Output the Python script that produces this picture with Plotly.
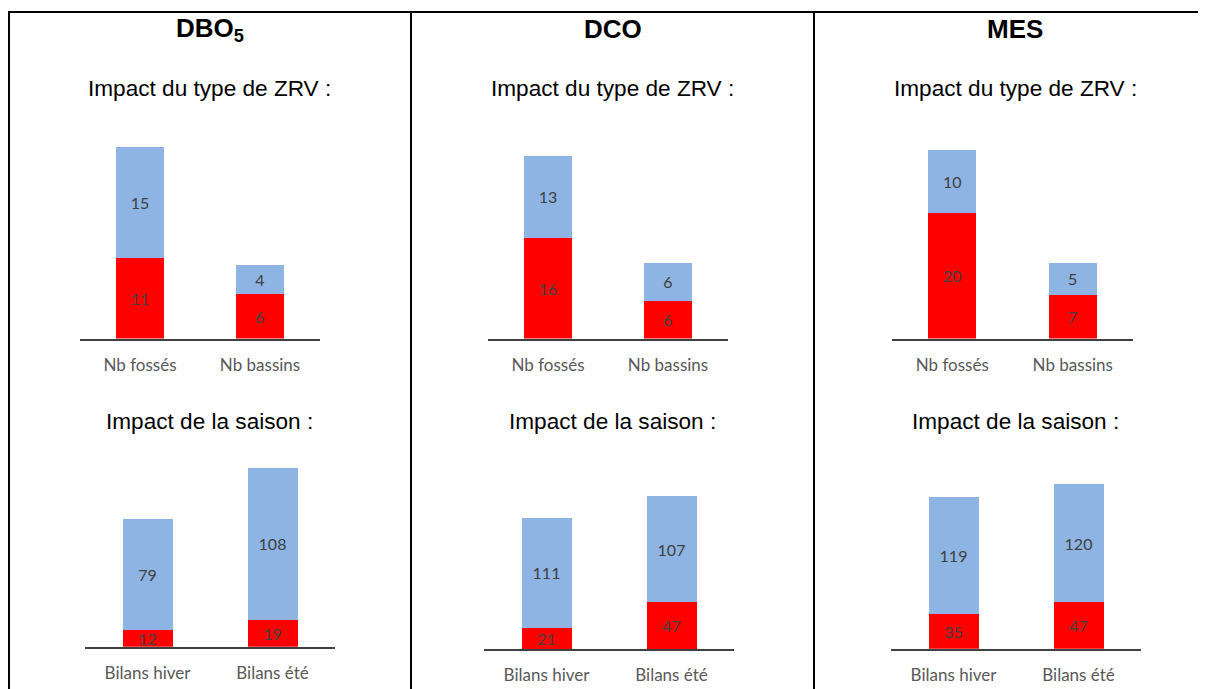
import plotly.graph_objects as go

# ---------------- data ----------------
params = ["DBO5", "DCO", "MES"]
cat_zrv = ["Nb fossés", "Nb bassins"]
cat_saison = ["Bilans hiver", "Bilans été"]

dbo_zrv_red = [11, 6]
dbo_zrv_blue = [15, 4]
dco_zrv_red = [16, 6]
dco_zrv_blue = [13, 6]
mes_zrv_red = [20, 7]
mes_zrv_blue = [10, 5]

dbo_saison_red = [12, 19]
dbo_saison_blue = [79, 108]
dco_saison_red = [21, 47]
dco_saison_blue = [111, 107]
mes_saison_red = [35, 47]
mes_saison_blue = [119, 120]

headers = ["<b>DBO<sub>5</sub></b>", "<b>DCO</b>", "<b>MES</b>"]
title_zrv = "Impact du type de ZRV :"
title_saison = "Impact de la saison :"

# ---------------- layout geometry (screen pixels) ----------------
W, H = 1206, 689
OFF = 8  # page body margin offset
RED = "#FF0000"
BLUE = "#8EB4E3"
LABEL_FONT = "Lato"


def px(x):
    return (x - OFF) / W


def py(y):
    return 1 - (y - OFF) / H


# (categories, red, blue, x0, x1, baseline_y, top_y, px_per_unit)
charts = [
    (cat_zrv, dbo_zrv_red, dbo_zrv_blue, 80, 320, 338.5, 140, 7.36),
    (cat_zrv, dco_zrv_red, dco_zrv_blue, 488, 728, 338.5, 140, 6.30),
    (cat_zrv, mes_zrv_red, mes_zrv_blue, 892, 1133, 338.5, 140, 6.28),
    (cat_saison, dbo_saison_red, dbo_saison_blue, 85, 335, 646.7, 455, 1.407),
    (cat_saison, dco_saison_red, dco_saison_blue, 484, 734, 649.0, 455, 0.994),
    (cat_saison, mes_saison_red, mes_saison_blue, 891, 1141, 648.7, 455, 0.985),
]

fig = go.Figure()
layout = {}

for i, (cats, red, blue, x0, x1, yb, yt, scale) in enumerate(charts):
    k = i + 1
    xa = "x" if k == 1 else f"x{k}"
    ya = "y" if k == 1 else f"y{k}"
    for vals, col in ((red, RED), (blue, BLUE)):
        fig.add_trace(go.Bar(
            x=cats, y=vals, xaxis=xa, yaxis=ya,
            marker=dict(color=col, line=dict(width=0)),
            text=[str(v) for v in vals],
            textposition="inside", insidetextanchor="middle",
            textangle=0, constraintext="none",
            textfont=dict(family=LABEL_FONT, size=16, color="#404040"),
            hoverinfo="skip", showlegend=False,
        ))
    xkey = "xaxis" if k == 1 else f"xaxis{k}"
    ykey = "yaxis" if k == 1 else f"yaxis{k}"
    layout[xkey] = dict(
        domain=[px(x0), px(x1)], range=[-0.5, 1.5], anchor=ya,
        showline=True, linecolor="#404040", linewidth=1.5,
        showgrid=False, zeroline=False, ticks="",
        ticklabelstandoff=10,
        tickfont=dict(family=LABEL_FONT, size=17, color="#595959"),
        fixedrange=True,
    )
    layout[ykey] = dict(
        domain=[py(yb), py(yt)], range=[0, (yb - yt) / scale], anchor=xa,
        visible=False, fixedrange=True,
    )

col_centers = [210, 612.5, 1015]
annotations = []
for c, h in zip(col_centers, headers):
    annotations.append(dict(
        x=px(c), y=py(29), xref="paper", yref="paper", text=h,
        showarrow=False, xanchor="center", yanchor="middle",
        font=dict(family="Liberation Sans", size=26, color="black"),
    ))
    annotations.append(dict(
        x=px(c), y=py(89), xref="paper", yref="paper", text=title_zrv,
        showarrow=False, xanchor="center", yanchor="middle",
        font=dict(family="Liberation Sans", size=22.6, color="black"),
    ))
    annotations.append(dict(
        x=px(c), y=py(421), xref="paper", yref="paper", text=title_saison,
        showarrow=False, xanchor="center", yanchor="middle",
        font=dict(family="Liberation Sans", size=22.6, color="black"),
    ))

shapes = [
    dict(type="line", xref="paper", yref="paper", x0=px(8), x1=1, y0=py(12), y1=py(12),
         line=dict(color="black", width=2)),
]
for xv in (9, 411, 814):
    shapes.append(dict(type="line", xref="paper", yref="paper", x0=px(xv), x1=px(xv),
                       y0=py(12), y1=0, line=dict(color="black", width=2)))

fig.update_layout(
    **layout,
    barmode="stack", bargap=0.6,
    width=W, height=H, autosize=False,
    margin=dict(l=0, r=0, t=0, b=0),
    paper_bgcolor="white", plot_bgcolor="white",
    showlegend=False,
    annotations=annotations, shapes=shapes,
)

fig.write_html("out.html")
